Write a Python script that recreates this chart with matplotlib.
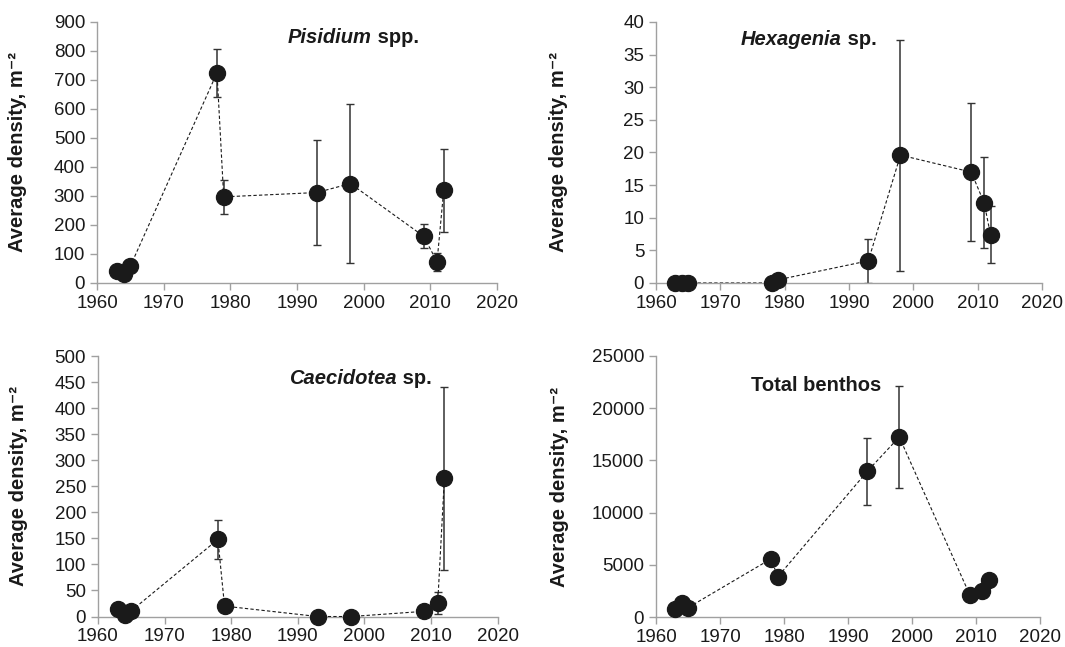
import matplotlib
matplotlib.use("Agg")
import matplotlib.pyplot as plt
import numpy as np

plt.rcParams['font.family'] = ['Liberation Sans', 'DejaVu Sans']

years = [1963, 1964, 1965, 1978, 1979, 1993, 1998, 2009, 2011, 2012]

pisidium = [42, 32, 58, 725, 297, 312, 343, 161, 73, 319]
pisidium_err = [0, 0, 0, 83, 58, 180, 275, 42, 31, 142]

hexagenia = [0, 0, 0, 0, 0.5, 3.4, 19.6, 17.0, 12.3, 7.4]
hexagenia_err = [0, 0, 0, 0, 0, 3.4, 17.7, 10.6, 7.0, 4.4]

caecidotea = [15, 3, 11, 148, 20, 0, 0, 10, 26, 265]
caecidotea_err = [0, 0, 0, 37, 10, 0, 0, 0, 22, 175]

total = [830, 1340, 920, 5600, 3850, 13950, 17230, 2170, 2520, 3540]
total_err = [0, 0, 0, 0, 600, 3200, 4840, 0, 0, 0]

x_ticks = [1960, 1970, 1980, 1990, 2000, 2010, 2020]

panels = [
    dict(pos=[0.0911, 0.5626, 0.3756, 0.4034], y=pisidium, err=pisidium_err,
         ymax=900, ystep=100, it='Pisidium', rest=' spp.', tpos=(0.477, 0.918), lab=-0.175),
    dict(pos=[0.6160, 0.5626, 0.3624, 0.4034], y=hexagenia, err=hexagenia_err,
         ymax=40, ystep=5, it='Hexagenia', rest=' sp.', tpos=(0.220, 0.912), lab=-0.227),
    dict(pos=[0.0920, 0.0471, 0.3753, 0.4026], y=caecidotea, err=caecidotea_err,
         ymax=500, ystep=50, it='Caecidotea', rest=' sp.', tpos=(0.478, 0.891), lab=-0.175),
    dict(pos=[0.6160, 0.0459, 0.3606, 0.4043], y=total, err=total_err,
         ymax=25000, ystep=5000, it=None, rest='Total benthos', tpos=(0.247, 0.866), lab=-0.227),
]

fig = plt.figure(figsize=(10.65, 6.47), dpi=100)
spine_col = '#a0a0a0'
for p in panels:
    ax = fig.add_axes(p['pos'])
    yv = np.array(p['y'], dtype=float)
    ev = np.array(p['err'], dtype=float)
    lower = np.minimum(ev, yv)
    ax.errorbar(years, yv, yerr=[lower, ev], fmt='none', ecolor='#333333',
                elinewidth=1.1, capsize=3, capthick=1.0, zorder=2)
    ax.plot(years, yv, color='#1a1a1a', lw=0.8, ls=(0, (3, 2)), zorder=3)
    ax.plot(years, yv, 'o', color='#1a1a1a', ms=11.5, zorder=4, clip_on=False)
    ax.set_xlim(1960, 2020)
    ax.set_ylim(0, p['ymax'])
    ax.set_xticks(x_ticks)
    ax.set_yticks(np.arange(0, p['ymax'] + p['ystep'] / 2, p['ystep']))
    for s in ['top', 'right']:
        ax.spines[s].set_visible(False)
    for s in ['left', 'bottom']:
        ax.spines[s].set_color(spine_col)
        ax.spines[s].set_linewidth(1.0)
    ax.tick_params(axis='both', colors=spine_col, labelcolor='#1a1a1a',
                   labelsize=13.5, length=5, width=1.0, direction='out')
    ax.set_ylabel('Average density, m\u207b\u00b2', fontsize=14.5,
                  fontweight='bold', color='#1a1a1a')
    ax.yaxis.set_label_coords(p['lab'], 0.5)
    tx, ty = p['tpos']
    if p['it']:
        t1 = ax.text(tx, ty, p['it'], transform=ax.transAxes, fontsize=14.5,
                     fontweight='bold', fontstyle='italic', ha='left', va='baseline',
                     color='#1a1a1a')
        ax.annotate(p['rest'], xy=(1, 0), xycoords=t1, ha='left', va='bottom',
                    fontsize=14.5, fontweight='bold', color='#1a1a1a')
    else:
        ax.text(tx, ty, p['rest'], transform=ax.transAxes, fontsize=14.5,
                fontweight='bold', ha='left', va='baseline', color='#1a1a1a')

fig.savefig('out.png', dpi=100)
